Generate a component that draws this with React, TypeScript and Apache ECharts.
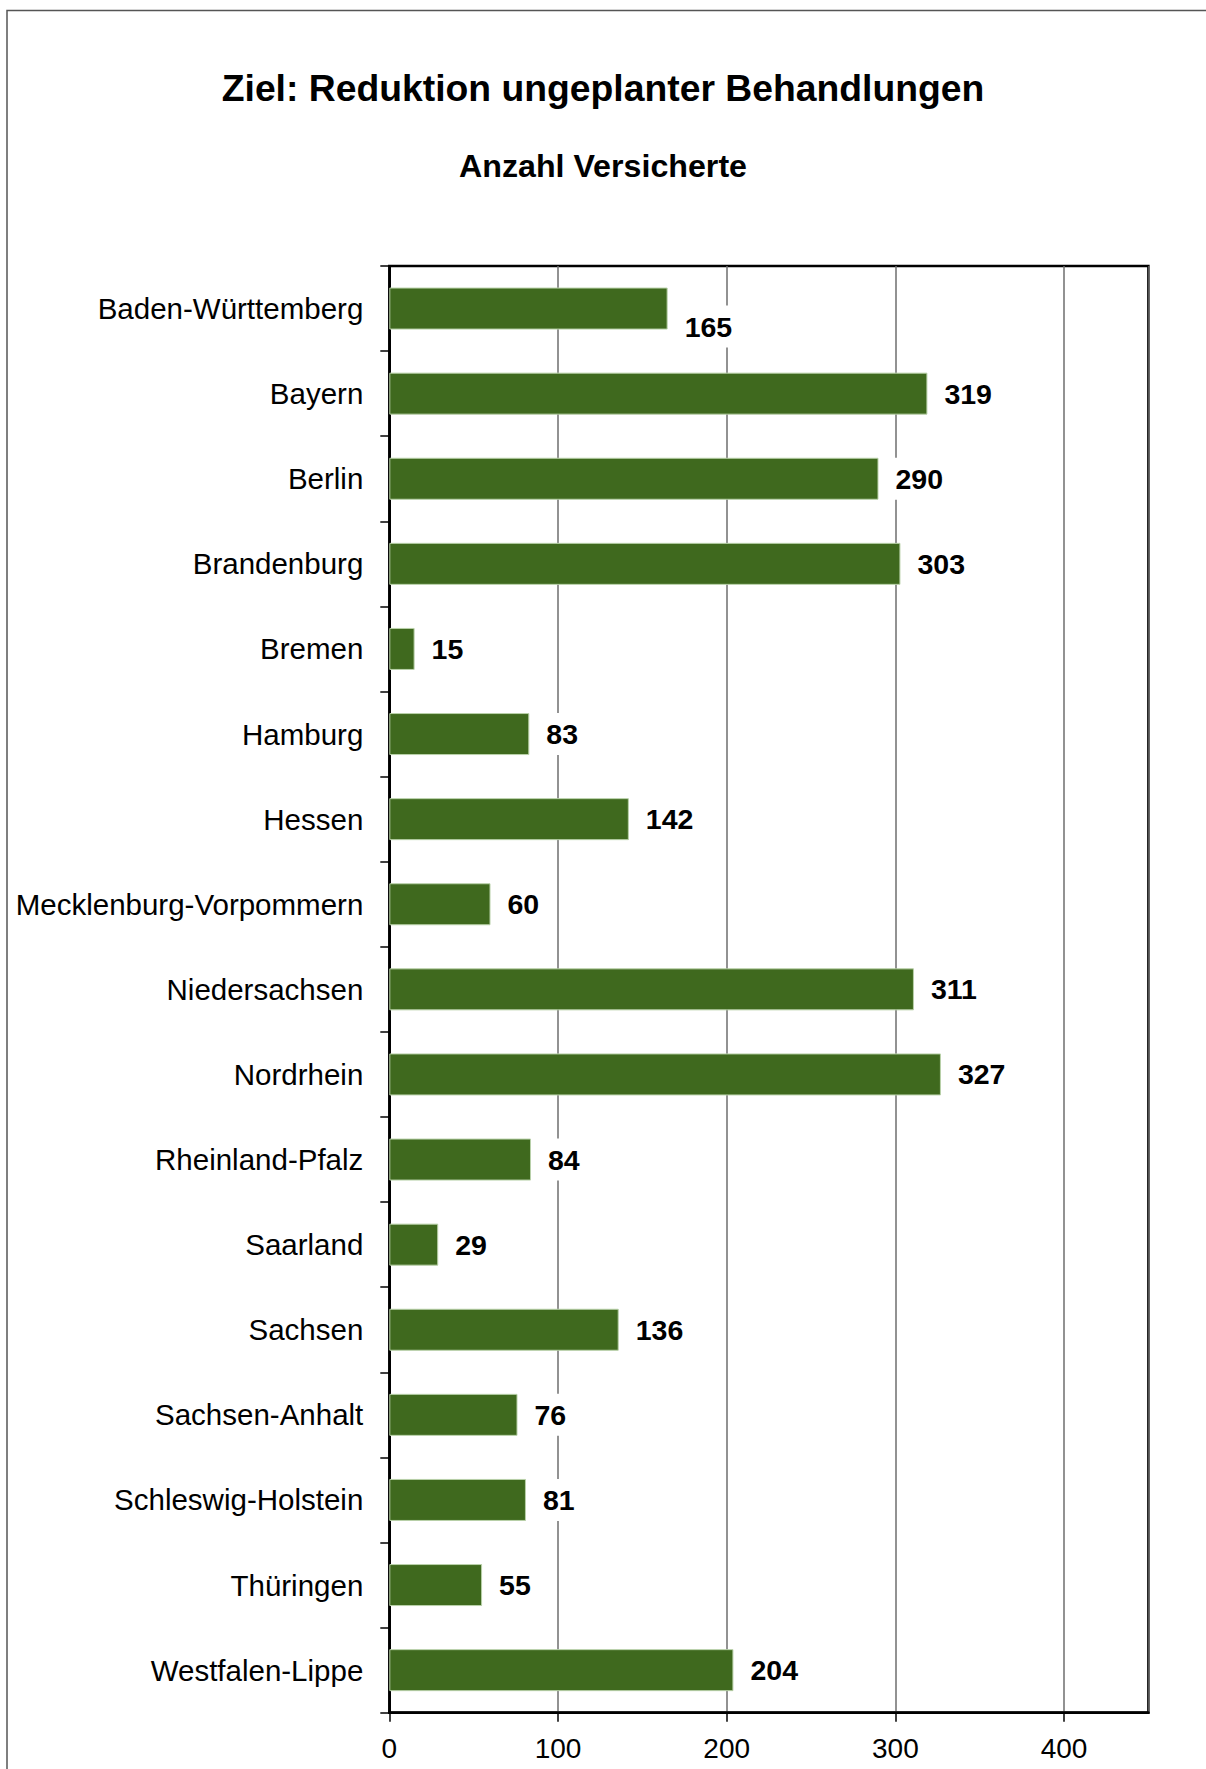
import React, { useEffect, useRef } from "react";
import * as echarts from "echarts";

const categories = [
  "Baden-Württemberg",
  "Bayern",
  "Berlin",
  "Brandenburg",
  "Bremen",
  "Hamburg",
  "Hessen",
  "Mecklenburg-Vorpommern",
  "Niedersachsen",
  "Nordrhein",
  "Rheinland-Pfalz",
  "Saarland",
  "Sachsen",
  "Sachsen-Anhalt",
  "Schleswig-Holstein",
  "Thüringen",
  "Westfalen-Lippe",
];
const values = [165, 319, 290, 303, 15, 83, 142, 60, 311, 327, 84, 29, 136, 76, 81, 55, 204];
const xMin = 0;
const xMax = 450;
const xInterval = 100;
const titleText = "Ziel: Reduktion ungeplanter Behandlungen";
const subtitleText = "Anzahl Versicherte";

const FONT = "'Liberation Sans', Arial, Helvetica, sans-serif";

export default function App() {
  const ref = useRef<HTMLDivElement>(null);
  useEffect(() => {
    document.body.style.margin = "0";
    if (!ref.current) return;
    const chart = echarts.init(ref.current, undefined, { renderer: "svg" });
    const data = values.map((v, i) =>
      i === 0 ? { value: v, label: { offset: [0, 18] } } : { value: v }
    );
    chart.setOption({
      animation: false,
      backgroundColor: "#ffffff",
      textStyle: { fontFamily: FONT },
      graphic: [
        {
          type: "rect",
          shape: { x: 7, y: 10.5, width: 1400, height: 2000 },
          style: { fill: "none", stroke: "#555", lineWidth: 1.5 },
          silent: true,
        },
        {
          type: "text",
          x: 603,
          y: 88,
          style: {
            text: titleText,
            fontFamily: FONT,
            fontSize: 37.3,
            fontWeight: "bold",
            fill: "#000",
            align: "center",
            verticalAlign: "middle",
          },
        },
        {
          type: "text",
          x: 603,
          y: 165.5,
          style: {
            text: subtitleText,
            fontFamily: FONT,
            fontSize: 32.2,
            fontWeight: "bold",
            fill: "#000",
            align: "center",
            verticalAlign: "middle",
          },
        },
      ],
      grid: {
        left: 389.3,
        top: 266,
        right: 57.6,
        bottom: 56.3,
        show: true,
        borderColor: "#000",
        borderWidth: 2.5,
        backgroundColor: "transparent",
      },
      xAxis: {
        type: "value",
        min: xMin,
        max: xMax,
        interval: xInterval,
        axisLine: { show: true, lineStyle: { color: "#000", width: 2.5 } },
        axisTick: { show: true, length: 9, lineStyle: { color: "#000", width: 1.5 } },
        axisLabel: {
          showMaxLabel: false,
          formatter: (v: number) => (v > 400 ? "" : String(v)),
          fontSize: 28,
          fontFamily: FONT,
          color: "#000",
          margin: 22,
        },
        splitLine: { show: true, lineStyle: { color: "#6e6e6e", width: 1.5 } },
      },
      yAxis: {
        type: "category",
        data: categories,
        inverse: true,
        axisLine: { show: true, lineStyle: { color: "#000", width: 2 } },
        axisTick: { show: true, length: 9, lineStyle: { color: "#000", width: 1.5 } },
        axisLabel: {
          fontSize: 29.5,
          fontFamily: FONT,
          color: "#000",
          margin: 26,
        },
        splitLine: { show: false },
      },
      series: [
        {
          type: "bar",
          data,
          barWidth: 42,
          itemStyle: { color: "#3f691e", borderColor: "#b9d1a9", borderWidth: 1 },
          label: {
            show: true,
            position: "right",
            distance: 11,
            fontSize: 28.5,
            fontWeight: "bold",
            fontFamily: FONT,
            color: "#000",
            backgroundColor: "#fff",
            lineHeight: 28,
            padding: [7, 6],
          },
        },
      ],
    });
    return () => chart.dispose();
  }, []);
  return <div ref={ref} style={{ width: 1206, height: 1769 }} />;
}
